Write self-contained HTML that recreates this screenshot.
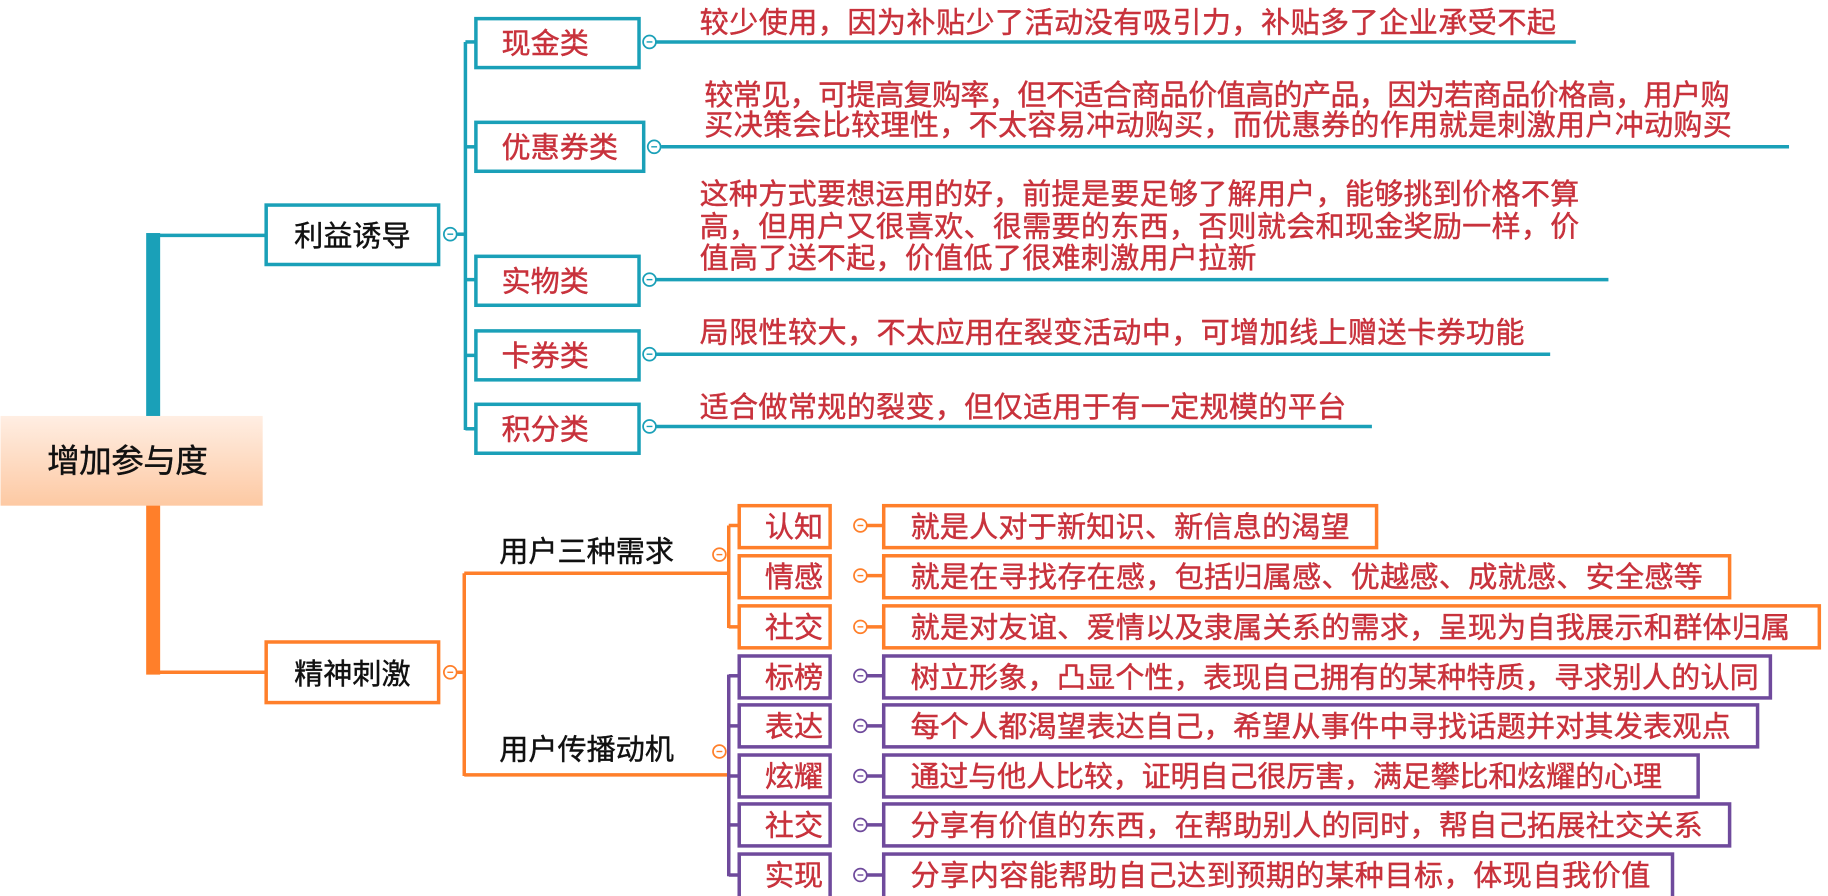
<!DOCTYPE html>
<html><head><meta charset="utf-8"><style>
html,body{margin:0;padding:0;background:#fff;width:1828px;height:896px;overflow:hidden}
svg{display:block}
text{font-family:"Liberation Sans","Noto Sans CJK SC",sans-serif;font-size:25px;stroke-width:0.35}
.r{fill:#c8323c;stroke:#c8323c}
.r text{stroke:#c8323c}
.k{fill:#111;stroke:#111}
</style></head><body>
<svg width="1828" height="896" viewBox="0 0 1568 769" xmlns="http://www.w3.org/2000/svg">
<defs>
<linearGradient id="g" x1="0" y1="0" x2="0" y2="1"><stop offset="0" stop-color="#ffeee3"/><stop offset="1" stop-color="#fdc9a3"/></linearGradient>
<g id="ct"><circle r="5.5" fill="#fff" stroke-width="1.5"/><line x1="-2.5" x2="2.5" y1="0" y2="0" stroke-width="1.2"/></g>
</defs>
<rect x="125" y="200" width="12" height="158" fill="#1aa0b8"/>
<polyline points="131,202 227,202" stroke="#1aa0b8" stroke-width="3" fill="none"/>
<rect x="125" y="433" width="12" height="146" fill="#ff7f2a"/>
<polyline points="131,577 227,577" stroke="#ff7f2a" stroke-width="3" fill="none"/>
<rect x="0" y="357" width="225" height="77" fill="url(#g)"/>
<text x="40" y="405" class="k" style="font-size:28px" textLength="138">增加参与度</text>
<rect x="228" y="176" width="148" height="51" fill="#fff" stroke="#1aa0b8" stroke-width="3"/>
<text x="252" y="211" class="k" textLength="100">利益诱导</text>
<g stroke="#1aa0b8" fill="none" stroke-width="3">
<line x1="399" y1="36" x2="399" y2="369"/>
<line x1="392" y1="201" x2="399" y2="201"/>
<line x1="399" y1="36" x2="408" y2="36"/>
<line x1="399" y1="126" x2="408" y2="126"/>
<line x1="399" y1="240" x2="408" y2="240"/>
<line x1="399" y1="305" x2="408" y2="305"/>
<line x1="399" y1="368" x2="408" y2="368"/>
<line x1="562" y1="36" x2="1352" y2="36"/>
<line x1="567" y1="126" x2="1535" y2="126"/>
<line x1="562" y1="240" x2="1380" y2="240"/>
<line x1="562" y1="304" x2="1330" y2="304"/>
<line x1="562" y1="366" x2="1177" y2="366"/>
<rect x="408" y="16" width="140" height="42" fill="#fff"/>
<rect x="408" y="105" width="144" height="42" fill="#fff"/>
<rect x="408" y="220" width="140" height="42" fill="#fff"/>
<rect x="408" y="284" width="140" height="42" fill="#fff"/>
<rect x="408" y="347" width="140" height="42" fill="#fff"/>
</g>
<g stroke="#1aa0b8"><use href="#ct" x="386" y="201"/><use href="#ct" x="557" y="36"/><use href="#ct" x="561" y="126"/><use href="#ct" x="557" y="240"/><use href="#ct" x="557" y="304"/><use href="#ct" x="557" y="366"/></g>
<g class="r">
<text x="430" y="46" textLength="75">现金类</text>
<text x="430" y="135" textLength="100">优惠券类</text>
<text x="430" y="250" textLength="75">实物类</text>
<text x="430" y="314" textLength="75">卡券类</text>
<text x="430" y="377" textLength="75">积分类</text>
<text x="600" y="28" textLength="735">较少使用，因为补贴少了活动没有吸引力，补贴多了企业承受不起</text>
<text x="604" y="90" textLength="880">较常见，可提高复购率，但不适合商品价值高的产品，因为若商品价格高，用户购</text>
<text x="604" y="116" textLength="882">买决策会比较理性，不太容易冲动购买，而优惠券的作用就是刺激用户冲动购买</text>
<text x="600" y="175" textLength="755">这种方式要想运用的好，前提是要足够了解用户，能够挑到价格不算</text>
<text x="600" y="203" textLength="755">高，但用户又很喜欢、很需要的东西，否则就会和现金奖励一样，价</text>
<text x="600" y="230" textLength="478">值高了送不起，价值低了很难刺激用户拉新</text>
<text x="600" y="294" textLength="708">局限性较大，不太应用在裂变活动中，可增加线上赠送卡券功能</text>
<text x="600" y="358" textLength="555">适合做常规的裂变，但仅适用于有一定规模的平台</text>
</g>
<rect x="228" y="551" width="148" height="52" fill="#fff" stroke="#ff7f2a" stroke-width="3"/>
<text x="252" y="587" class="k" textLength="100">精神刺激</text>
<g stroke="#ff7f2a" fill="none" stroke-width="3">
<line x1="392" y1="577" x2="398" y2="577"/>
<line x1="398" y1="492" x2="398" y2="666"/>
<line x1="398" y1="492" x2="625" y2="492"/>
<line x1="398" y1="665" x2="625" y2="665"/>
<line x1="625" y1="451" x2="625" y2="539"/>
<line x1="625" y1="451" x2="634" y2="451"/>
<line x1="625" y1="538" x2="634" y2="538"/>
<line x1="743" y1="451" x2="758" y2="451"/>
<line x1="743" y1="494" x2="758" y2="494"/>
<line x1="743" y1="538" x2="758" y2="538"/>
<rect x="634" y="434" width="78" height="36" fill="#fff"/>
<rect x="634" y="477" width="78" height="36" fill="#fff"/>
<rect x="634" y="520" width="78" height="36" fill="#fff"/>
<rect x="758" y="434" width="423" height="36" fill="#fff"/>
<rect x="758" y="477" width="726" height="36" fill="#fff"/>
<rect x="758" y="520" width="803" height="36" fill="#fff"/>
</g>
<g stroke="#ff7f2a"><use href="#ct" x="386" y="577"/><use href="#ct" x="617" y="476"/><use href="#ct" x="617" y="645"/><use href="#ct" x="738" y="451"/><use href="#ct" x="738" y="494"/><use href="#ct" x="738" y="538"/></g>
<text x="428" y="482" class="k" textLength="150">用户三种需求</text>
<text x="428" y="652" class="k" textLength="150">用户传播动机</text>
<g stroke="#6f4a9c" fill="none" stroke-width="3">
<line x1="625" y1="579" x2="625" y2="752"/>
<line x1="625" y1="580" x2="634" y2="580"/>
<line x1="625" y1="623" x2="634" y2="623"/>
<line x1="625" y1="666" x2="634" y2="666"/>
<line x1="625" y1="708" x2="634" y2="708"/>
<line x1="625" y1="751" x2="634" y2="751"/>
<line x1="743" y1="580" x2="758" y2="580"/>
<line x1="743" y1="623" x2="758" y2="623"/>
<line x1="743" y1="666" x2="758" y2="666"/>
<line x1="743" y1="708" x2="758" y2="708"/>
<line x1="743" y1="751" x2="758" y2="751"/>
<rect x="634" y="563" width="78" height="36" fill="#fff"/>
<rect x="634" y="605" width="78" height="36" fill="#fff"/>
<rect x="634" y="648" width="78" height="36" fill="#fff"/>
<rect x="634" y="690" width="78" height="36" fill="#fff"/>
<rect x="634" y="733" width="78" height="40" fill="#fff"/>
<rect x="758" y="563" width="761" height="36" fill="#fff"/>
<rect x="758" y="605" width="750" height="36" fill="#fff"/>
<rect x="758" y="648" width="699" height="36" fill="#fff"/>
<rect x="758" y="690" width="726" height="36" fill="#fff"/>
<rect x="758" y="733" width="677" height="40" fill="#fff"/>
</g>
<g stroke="#6f4a9c"><use href="#ct" x="738" y="580"/><use href="#ct" x="738" y="623"/><use href="#ct" x="738" y="666"/><use href="#ct" x="738" y="708"/><use href="#ct" x="738" y="751"/></g>
<g class="r">
<text x="656" y="461" textLength="50">认知</text>
<text x="656" y="504" textLength="50">情感</text>
<text x="656" y="547" textLength="50">社交</text>
<text x="656" y="590" textLength="50">标榜</text>
<text x="656" y="632" textLength="50">表达</text>
<text x="656" y="675" textLength="50">炫耀</text>
<text x="656" y="717" textLength="50">社交</text>
<text x="656" y="760" textLength="50">实现</text>
<text x="781" y="461" textLength="377">就是人对于新知识、新信息的渴望</text>
<text x="781" y="504" textLength="680">就是在寻找存在感，包括归属感、优越感、成就感、安全感等</text>
<text x="781" y="547" textLength="755">就是对友谊、爱情以及隶属关系的需求，呈现为自我展示和群体归属</text>
<text x="781" y="590" textLength="728">树立形象，凸显个性，表现自己拥有的某种特质，寻求别人的认同</text>
<text x="781" y="632" textLength="704">每个人都渴望表达自己，希望从事件中寻找话题并对其发表观点</text>
<text x="781" y="675" textLength="645">通过与他人比较，证明自己很厉害，满足攀比和炫耀的心理</text>
<text x="781" y="717" textLength="680">分享有价值的东西，在帮助别人的同时，帮自己拓展社交关系</text>
<text x="781" y="760" textLength="635">分享内容能帮助自己达到预期的某种目标，体现自我价值</text>
</g>
</svg>
</body></html>
